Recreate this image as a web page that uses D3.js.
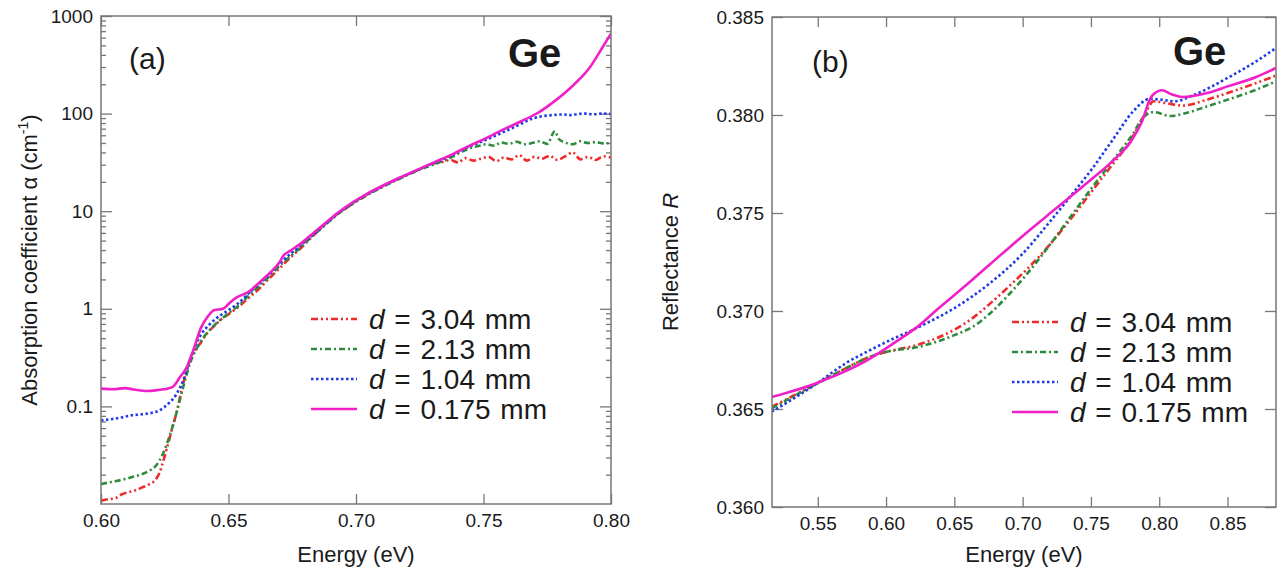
<!DOCTYPE html>
<html>
<head>
<meta charset="utf-8">
<script src="https://cdn.jsdelivr.net/npm/d3@7"></script>
<style>
    body { margin: 0; background: #fff; }
    text { font-family: "Liberation Sans", Arial, Helvetica, sans-serif; fill: #1a1a1a; }
    .tick line { stroke: #777; stroke-width: 1.3; }
    .marco { fill: none; stroke: #777; stroke-width: 1.5; }
</style>
</head>
<body>
<div class="grafico"></div>
<script>
// panel (a): coeficiente de absorcion [energia eV, alfa cm-1]
const alfaRojo = [[0.600,0.0108],[0.603,0.0112],[0.6054,0.0114],[0.608,0.0125],[0.6108,0.0132],[0.6135,0.0138],[0.6162,0.0148],[0.619,0.0160],[0.6216,0.018],[0.623,0.021],[0.6243,0.0268],[0.6257,0.036],[0.627,0.0484],[0.6283,0.065],[0.6297,0.0875],[0.631,0.125],[0.6324,0.178],[0.6337,0.24],[0.6351,0.31],[0.6371,0.38],[0.6391,0.45],[0.6418,0.57],[0.6445,0.67],[0.6472,0.78],[0.65,0.88],[0.654,1.05],[0.658,1.30],[0.662,1.6],[0.666,2.05],[0.670,2.6],[0.674,3.3],[0.678,4.1],[0.682,5.2],[0.686,6.6],[0.690,8.2],[0.695,10.3],[0.700,12.5],[0.705,15],[0.710,17.8],[0.715,20.5],[0.720,23.5],[0.725,27],[0.728,29.5],[0.731,31],[0.734,32],[0.737,33.5],[0.740,31.5],[0.743,35],[0.746,33],[0.749,34.5],[0.752,36],[0.755,32.5],[0.758,35.5],[0.761,34],[0.764,37.5],[0.767,33],[0.770,36],[0.773,34.5],[0.776,37],[0.779,33.5],[0.782,36.5],[0.785,40],[0.788,34],[0.791,36],[0.794,33.5],[0.797,36.5],[0.800,35.5]];
const alfaVerde = [[0.600,0.016],[0.604,0.0168],[0.6094,0.018],[0.6125,0.019],[0.6162,0.0203],[0.619,0.022],[0.6216,0.0248],[0.6243,0.0327],[0.627,0.0504],[0.6297,0.0875],[0.6324,0.164],[0.6351,0.285],[0.6391,0.46],[0.6445,0.68],[0.65,0.9],[0.654,1.08],[0.658,1.38],[0.662,1.7],[0.666,2.15],[0.670,2.75],[0.674,3.4],[0.678,4.2],[0.682,5.3],[0.687,6.9],[0.693,9.4],[0.698,11.6],[0.704,14.5],[0.710,17.5],[0.717,21.5],[0.724,26],[0.731,30.5],[0.7377,36],[0.741,40],[0.7444,44],[0.748,46.5],[0.7512,48.5],[0.754,47],[0.757,50.5],[0.760,49],[0.763,51.5],[0.766,48.5],[0.769,50],[0.772,52],[0.775,49],[0.778,66],[0.7795,55],[0.782,50.5],[0.785,48.5],[0.788,52],[0.791,50],[0.794,51],[0.797,49.5],[0.800,50.5]];
const alfaAzul = [[0.600,0.0718],[0.604,0.074],[0.608,0.077],[0.6121,0.081],[0.616,0.083],[0.62,0.086],[0.6229,0.091],[0.6263,0.106],[0.6297,0.135],[0.6324,0.19],[0.6351,0.31],[0.6391,0.54],[0.6418,0.66],[0.6445,0.77],[0.6472,0.87],[0.65,0.97],[0.654,1.15],[0.658,1.45],[0.662,1.8],[0.666,2.25],[0.670,2.9],[0.674,3.6],[0.678,4.4],[0.682,5.4],[0.687,7.0],[0.693,9.5],[0.698,11.8],[0.704,14.7],[0.710,17.8],[0.717,21.8],[0.724,26.3],[0.731,31.5],[0.738,38],[0.744,45.5],[0.751,54],[0.758,65],[0.764,77],[0.7687,88],[0.772,93],[0.775,95.5],[0.778,97],[0.781,98],[0.784,96.5],[0.787,99],[0.790,100],[0.793,98.5],[0.796,100],[0.800,99]];
const alfaRosa = [[0.600,0.152],[0.605,0.150],[0.6094,0.154],[0.613,0.149],[0.6182,0.144],[0.6229,0.148],[0.626,0.152],[0.6283,0.160],[0.631,0.20],[0.6337,0.254],[0.6364,0.39],[0.6391,0.63],[0.6418,0.83],[0.6445,0.97],[0.6479,1.0],[0.650,1.12],[0.6526,1.28],[0.658,1.5],[0.662,1.85],[0.666,2.3],[0.670,3.0],[0.6715,3.5],[0.674,3.9],[0.678,4.6],[0.682,5.6],[0.687,7.2],[0.693,9.7],[0.698,12],[0.704,14.9],[0.710,18],[0.717,22],[0.724,26.5],[0.731,32],[0.738,38.5],[0.7444,46.7],[0.751,56],[0.7579,69],[0.765,84],[0.7714,102],[0.778,135],[0.7849,192],[0.7916,295],[0.797,493],[0.800,660]];

// panel (b): reflectancia [energia eV, R]
const reflRojo = [[0.5163,0.36511],[0.5494,0.3663],[0.5704,0.36707],[0.5885,0.36767],[0.6005,0.36792],[0.6245,0.3683],[0.6501,0.36905],[0.6636,0.36965],[0.6757,0.37035],[0.6907,0.3713],[0.7027,0.3721],[0.7147,0.37298],[0.7358,0.37475],[0.7508,0.37612],[0.7658,0.37748],[0.7794,0.37874],[0.7899,0.3801],[0.7959,0.3807],[0.8049,0.38061],[0.8169,0.38048],[0.835,0.38078],[0.85,0.38112],[0.871,0.38163],[0.8855,0.38201]];
const reflVerde = [[0.5163,0.36503],[0.5494,0.3663],[0.5704,0.36707],[0.5885,0.36767],[0.6005,0.36792],[0.6245,0.36818],[0.6501,0.36877],[0.6636,0.3692],[0.6757,0.36985],[0.6907,0.3709],[0.7027,0.37185],[0.7147,0.3729],[0.7358,0.37488],[0.7508,0.3763],[0.7658,0.37765],[0.7794,0.3789],[0.7899,0.37998],[0.796,0.38015],[0.8079,0.37995],[0.8169,0.38005],[0.835,0.38044],[0.85,0.38078],[0.871,0.38129],[0.8855,0.38172]];
const reflAzul = [[0.5163,0.36486],[0.5494,0.3663],[0.5704,0.36733],[0.5885,0.36801],[0.6005,0.36843],[0.6245,0.3692],[0.6501,0.37015],[0.6757,0.3714],[0.6997,0.3729],[0.7207,0.37462],[0.7358,0.37592],[0.7508,0.37725],[0.7658,0.37872],[0.7809,0.38018],[0.7929,0.38082],[0.8019,0.38078],[0.8109,0.3807],[0.8259,0.38104],[0.85,0.38189],[0.871,0.38274],[0.8855,0.38342]];
const reflRosa = [[0.5163,0.36561],[0.5494,0.36633],[0.5885,0.36758],[0.6005,0.36812],[0.6125,0.36868],[0.6245,0.36928],[0.6366,0.37003],[0.6501,0.37082],[0.6636,0.37162],[0.6757,0.37236],[0.6907,0.37327],[0.7057,0.37416],[0.7207,0.37502],[0.7358,0.37588],[0.7508,0.37675],[0.7658,0.37765],[0.7794,0.37866],[0.7869,0.37959],[0.7944,0.38095],[0.8019,0.38126],[0.8094,0.38105],[0.8169,0.38092],[0.835,0.38112],[0.85,0.38146],[0.871,0.38194],[0.8855,0.3824]];

// leyenda y ticks
const espesores = ["3.04", "2.13", "1.04", "0.175"];
const colores = ["#ee2a2a", "#2e8b3e", "#1f3be8", "#f01fc8"];
const trazos = ["7,3,2,3,2,3", "6,3,2,3", "2.5,2.5", null];
const ticksEnergiaA = [0.60, 0.65, 0.70, 0.75, 0.80];
const etiquetasEnergiaA = ["0.60", "0.65", "0.70", "0.75", "0.80"];
const ticksAlfa = [0.1, 1, 10, 100, 1000];
const etiquetasAlfa = ["0.1", "1", "10", "100", "1000"];
const ticksEnergiaB = [0.55, 0.60, 0.65, 0.70, 0.75, 0.80, 0.85];
const etiquetasEnergiaB = ["0.55", "0.60", "0.65", "0.70", "0.75", "0.80", "0.85"];
const ticksRefl = [0.360, 0.365, 0.370, 0.375, 0.380, 0.385];
const etiquetasRefl = ["0.360", "0.365", "0.370", "0.375", "0.380", "0.385"];

const ancho = 1284,
    alto = 579;

let svg = d3.select('.grafico').append('svg')
    .attr('width', ancho)
    .attr('height', alto);

const xA = d3.scaleLinear().domain([0.60, 0.80]).range([101, 611]);
const yA = d3.scaleLog().domain([0.01, 1000]).range([504, 16]);
const xB = d3.scaleLinear().domain([0.5165, 0.8855]).range([772, 1276]);
const yB = d3.scaleLinear().domain([0.360, 0.385]).range([507, 17]);

// ticks menores del eje log
const menoresAlfa = [];
[0.01, 0.1, 1, 10, 100].forEach(base => {
    for (let k = 2; k <= 9; k++) menoresAlfa.push(base * k);
});

function sinDominio(g) {
    g.select('.domain').remove();
    g.selectAll('text').style('font-size', '19px');
}

function panel(x, y, opciones) {
    const [x0, x1] = x.range();
    const [y0, y1] = y.range();

    svg.append('g')
        .attr('transform', 'translate(0,' + y0 + ')')
        .call(d3.axisBottom(x).tickValues(opciones.ticksX).tickFormat((d, i) => opciones.etiquetasX[i]).tickSize(-10).tickPadding(10))
        .call(sinDominio);
    svg.append('g')
        .attr('transform', 'translate(0,' + y1 + ')')
        .call(d3.axisTop(x).tickValues(opciones.ticksX).tickFormat('').tickSize(-10))
        .call(sinDominio);
    svg.append('g')
        .attr('transform', 'translate(' + x0 + ',0)')
        .call(d3.axisLeft(y).tickValues(opciones.ticksY).tickFormat((d, i) => opciones.etiquetasY[i]).tickSize(-11).tickPadding(8))
        .call(sinDominio);
    svg.append('g')
        .attr('transform', 'translate(' + x1 + ',0)')
        .call(d3.axisRight(y).tickValues(opciones.ticksY).tickFormat('').tickSize(-11))
        .call(sinDominio);

    if (opciones.menores) {
        svg.append('g')
            .attr('transform', 'translate(' + x0 + ',0)')
            .call(d3.axisLeft(y).tickValues(opciones.menores).tickFormat('').tickSize(-5))
            .call(sinDominio);
        svg.append('g')
            .attr('transform', 'translate(' + x1 + ',0)')
            .call(d3.axisRight(y).tickValues(opciones.menores).tickFormat('').tickSize(-5))
            .call(sinDominio);
    }

    svg.append('clipPath').attr('id', opciones.id)
        .append('rect')
        .attr('x', x0).attr('y', y1)
        .attr('width', x1 - x0).attr('height', y0 - y1);

    const linea = d3.line()
        .x(d => x(d[0]))
        .y(d => y(d[1]))
        .curve(d3.curveMonotoneX);

    svg.append('g')
        .attr('clip-path', 'url(#' + opciones.id + ')')
        .selectAll('path')
        .data(opciones.series)
        .enter().append('path')
        .attr('d', d => linea(d))
        .attr('fill', 'none')
        .attr('stroke', (d, i) => colores[i])
        .attr('stroke-width', 2.6)
        .attr('stroke-dasharray', (d, i) => trazos[i]);

    svg.append('rect')
        .attr('class', 'marco')
        .attr('x', x0).attr('y', y1)
        .attr('width', x1 - x0).attr('height', y0 - y1);

    //leyenda
    let leyenda = svg.append('g')
        .selectAll('g')
        .data(espesores)
        .enter().append('g')
        .attr('transform', (d, i) => 'translate(' + opciones.leyenda[0] + ',' + (opciones.leyenda[1] + i * 30) + ')');

    leyenda.append('line')
        .attr('x1', 0).attr('x2', 46)
        .attr('stroke', (d, i) => colores[i])
        .attr('stroke-width', 2.6)
        .attr('stroke-dasharray', (d, i) => trazos[i]);

    let txt = leyenda.append('text')
        .attr('x', 58)
        .attr('y', 10)
        .style('font-size', '28px')
        .style('word-spacing', '2px');
    txt.append('tspan').style('font-style', 'italic').text('d');
    txt.append('tspan').text(d => ' = ' + d + ' mm');

    svg.append('text')
        .attr('x', opciones.letra[0]).attr('y', opciones.letra[1])
        .style('font-size', '30px')
        .text(opciones.letra[2]);

    svg.append('text')
        .attr('x', opciones.ge[0]).attr('y', opciones.ge[1])
        .style('font-size', '40px')
        .style('font-weight', 'bold')
        .text('Ge');

    svg.append('text')
        .attr('x', (x0 + x1) / 2).attr('y', 562)
        .attr('text-anchor', 'middle')
        .style('font-size', '22px')
        .text('Energy (eV)');
}

panel(xA, yA, {
    id: 'clipA',
    ticksX: ticksEnergiaA, etiquetasX: etiquetasEnergiaA,
    ticksY: ticksAlfa, etiquetasY: etiquetasAlfa,
    menores: menoresAlfa,
    series: [alfaRojo, alfaVerde, alfaAzul, alfaRosa],
    leyenda: [311, 319],
    letra: [129, 69, '(a)'],
    ge: [508, 67]
});

panel(xB, yB, {
    id: 'clipB',
    ticksX: ticksEnergiaB, etiquetasX: etiquetasEnergiaB,
    ticksY: ticksRefl, etiquetasY: etiquetasRefl,
    series: [reflRojo, reflVerde, reflAzul, reflRosa],
    leyenda: [1012, 322],
    letra: [812, 72, '(b)'],
    ge: [1173, 65]
});

// titulos de los ejes verticales
let tituloA = svg.append('text')
    .attr('transform', 'translate(37,260) rotate(-90)')
    .attr('text-anchor', 'middle')
    .style('font-size', '22px');
tituloA.append('tspan').text('Absorption coefficient α (cm');
tituloA.append('tspan').attr('dy', -9).style('font-size', '14px').text('-1');
tituloA.append('tspan').attr('dy', 9).text(')');

let tituloB = svg.append('text')
    .attr('transform', 'translate(678,262) rotate(-90)')
    .attr('text-anchor', 'middle')
    .style('font-size', '22px');
tituloB.append('tspan').text('Reflectance ');
tituloB.append('tspan').style('font-style', 'italic').text('R');
</script>
</body>
</html>
